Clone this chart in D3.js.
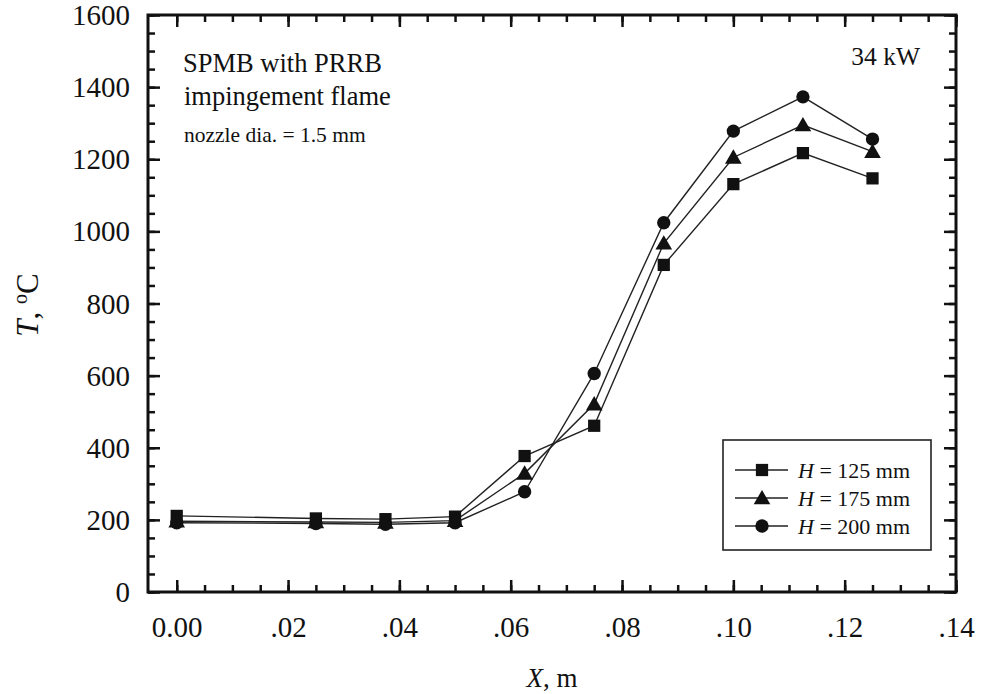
<!DOCTYPE html>
<html><head><meta charset="utf-8">
<script src="https://cdn.jsdelivr.net/npm/d3@7"></script>
<style>body{margin:0;background:#fff}svg{display:block}text{font-family:"Liberation Serif","Times New Roman",serif;fill:#111}</style>
</head><body><svg id="c" width="987" height="694"></svg>
<script>
const xValues = [0, 0.025, 0.0375, 0.05, 0.0625, 0.075, 0.0875, 0.1, 0.1125, 0.125];
const h125 = [211, 204, 202, 209, 377, 461, 907, 1131, 1217, 1147];
const h175 = [196, 194, 193, 198, 329, 521, 967, 1205, 1295, 1221];
const h200 = [192, 190, 188, 192, 278, 606, 1024, 1278, 1373, 1256];
const seriesNames = ["125", "175", "200"];
const xTicks = [0, 0.02, 0.04, 0.06, 0.08, 0.10, 0.12, 0.14];
const xTickLabels = ["0.00", ".02", ".04", ".06", ".08", ".10", ".12", ".14"];
const yTicks = [0, 200, 400, 600, 800, 1000, 1200, 1400, 1600];

const svg = d3.select("#c");
const L = 148, R = 956, T = 15, B = 592;
const x = d3.scaleLinear().domain([-0.00516, 0.14]).range([L, R]);
const y = d3.scaleLinear().domain([0, 1600]).range([B, T]);

const g = svg.append("g");
const xMinor = d3.range(0, 0.1401, 0.005);
const yMinor = d3.range(0, 1601, 50);
function tickStyle(sel){ sel.selectAll("path.domain").remove(); sel.selectAll("line").attr("stroke","#111").attr("stroke-width",2.5); sel.selectAll("text").remove(); }
g.append("g").attr("transform",`translate(0,${B})`).call(d3.axisTop(x).tickValues(xMinor).tickSize(7)).call(tickStyle);
g.append("g").attr("transform",`translate(0,${T})`).call(d3.axisBottom(x).tickValues(xMinor).tickSize(7)).call(tickStyle);
g.append("g").attr("transform",`translate(0,${B})`).call(d3.axisTop(x).tickValues(xTicks).tickSize(12)).call(tickStyle);
g.append("g").attr("transform",`translate(0,${T})`).call(d3.axisBottom(x).tickValues(xTicks).tickSize(12)).call(tickStyle);
g.append("g").attr("transform",`translate(${L},0)`).call(d3.axisRight(y).tickValues(yMinor).tickSize(7)).call(tickStyle);
g.append("g").attr("transform",`translate(${R},0)`).call(d3.axisLeft(y).tickValues(yMinor).tickSize(7)).call(tickStyle);
g.append("g").attr("transform",`translate(${L},0)`).call(d3.axisRight(y).tickValues(yTicks).tickSize(12)).call(tickStyle);
g.append("g").attr("transform",`translate(${R},0)`).call(d3.axisLeft(y).tickValues(yTicks).tickSize(12)).call(tickStyle);

const xa = g.append("g").attr("transform",`translate(0,${B})`).call(d3.axisBottom(x).tickValues(xTicks).tickSize(0).tickPadding(0).tickFormat((d,i)=>xTickLabels[i]));
xa.select("path.domain").remove();
xa.selectAll("text").attr("font-size",29).attr("dy",0).attr("y",45).attr("fill","#111");
const ya = g.append("g").attr("transform",`translate(${L},0)`).call(d3.axisLeft(y).tickValues(yTicks).tickSize(0).tickPadding(18).tickFormat(d3.format("d")));
ya.select("path.domain").remove();
ya.selectAll("text").attr("font-size",29).attr("dy","0.33em").attr("fill","#111");
g.selectAll(".tick text").style("font-family",'"Liberation Serif","Times New Roman",serif');

svg.append("rect").attr("x",L).attr("y",T).attr("width",R-L).attr("height",B-T).attr("fill","none").attr("stroke","#111").attr("stroke-width",3);

const data = [h125, h175, h200];
const line = d3.line().x((d,i)=>x(xValues[i])).y(d=>y(d));
const shapes = [d3.symbolSquare, d3.symbolTriangle, d3.symbolCircle];
const sizes = [150, 120, 140];
data.forEach((s,k)=>{
  svg.append("path").datum(s).attr("d",line).attr("fill","none").attr("stroke","#222").attr("stroke-width",1.4);
});
data.forEach((s,k)=>{
  svg.selectAll(null).data(s).enter().append("path")
    .attr("d", d3.symbol().type(shapes[k]).size(sizes[k]))
    .attr("transform",(d,i)=>`translate(${x(xValues[i])},${y(d)+(k===1?1.5:0)})`)
    .attr("fill","#111");
});

svg.append("text").attr("x",183).attr("y",72).attr("font-size",26.5).text("SPMB with PRRB");
svg.append("text").attr("x",184).attr("y",105).attr("font-size",26.5).text("impingement flame");
svg.append("text").attr("x",184).attr("y",142).attr("font-size",21.5).text("nozzle dia. = 1.5 mm");
svg.append("text").attr("x",920).attr("y",65).attr("font-size",25.5).attr("text-anchor","end").text("34 kW");

const lg = svg.append("g");
lg.append("rect").attr("x",723).attr("y",440).attr("width",208).attr("height",110).attr("fill","#fff").attr("stroke","#222").attr("stroke-width",1.6);
const rowY = [470, 498, 526];
seriesNames.forEach((n,k)=>{
  lg.append("line").attr("x1",735).attr("x2",788).attr("y1",rowY[k]).attr("y2",rowY[k]).attr("stroke","#222").attr("stroke-width",1.4);
  lg.append("path").attr("d",d3.symbol().type(shapes[k]).size(sizes[k])).attr("transform",`translate(762,${rowY[k]+(k===1?1.5:0)})`).attr("fill","#111");
  const t = lg.append("text").attr("x",798).attr("y",rowY[k]+7.5).attr("font-size",22);
  t.append("tspan").attr("font-style","italic").text("H");
  t.append("tspan").text(" = " + n + " mm");
});

const yt = svg.append("text").attr("transform","translate(38,305) rotate(-90)").attr("text-anchor","middle").attr("font-size",31);
yt.append("tspan").attr("font-style","italic").text("T");
yt.append("tspan").text(", ");
yt.append("tspan").attr("font-size",20).attr("dy",-11).text("o");
yt.append("tspan").attr("dy",11).text("C");
const xt = svg.append("text").attr("x",552).attr("y",687).attr("text-anchor","middle").attr("font-size",27);
xt.append("tspan").attr("font-style","italic").text("X");
xt.append("tspan").text(", m");
</script></body></html>
